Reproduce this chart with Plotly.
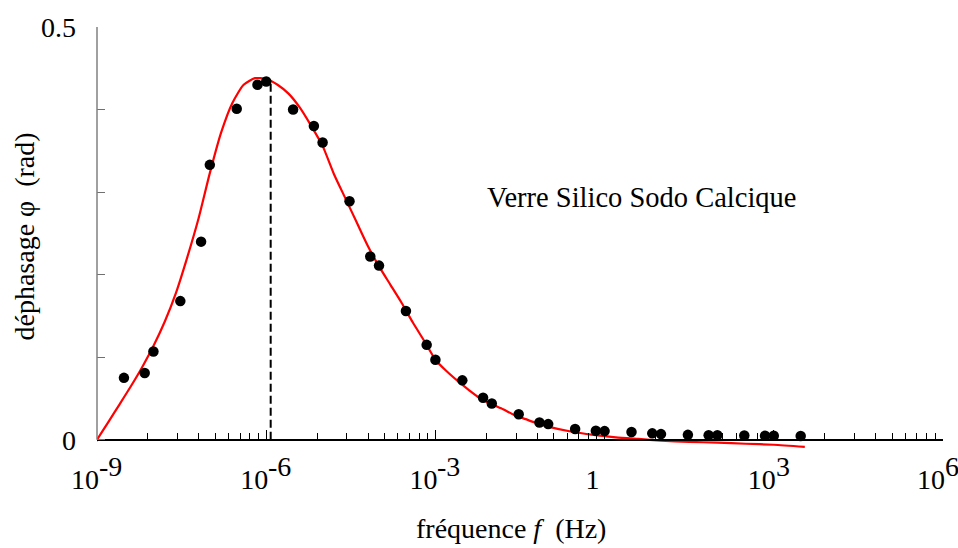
import numpy as np
import plotly.graph_objects as go

# Measured phase shift of soda-lime-silica glass vs. frequency
freq_hz = [3e-9, 7e-9, 1e-8, 3e-8, 7e-8, 1e-7, 3e-7, 7e-7, 1e-6,
           3e-6, 7e-6, 1e-5, 3e-5, 7e-5, 1e-4, 3e-4, 7e-4, 1e-3,
           3e-3, 7e-3, 1e-2, 3e-2, 7e-2, 1e-1, 3e-1, 7e-1, 1.0,
           3.0, 7.0, 10.0, 30.0, 70.0, 100.0, 300.0, 700.0, 1000.0, 3000.0]
phase_rad = [0.075, 0.081, 0.107, 0.168, 0.240, 0.333, 0.401, 0.430, 0.434,
             0.400, 0.380, 0.360, 0.289, 0.222, 0.211, 0.156, 0.115, 0.097,
             0.072, 0.051, 0.044, 0.031, 0.021, 0.019, 0.013, 0.011, 0.0105,
             0.0095, 0.0078, 0.0069, 0.0060, 0.0056, 0.0054, 0.0051, 0.0048, 0.0048, 0.0045]

# Fitted model curve (log10 of frequency, phase)
fit_log_f = [-9.07, -9.0, -8.8, -8.6, -8.4, -8.2, -8.0, -7.8, -7.6, -7.4,
             -7.2, -7.0, -6.8, -6.6, -6.4, -6.2, -6.0, -5.8, -5.6, -5.4,
             -5.2, -5.0, -4.8, -4.6, -4.4, -4.2, -4.0, -3.8, -3.6, -3.4,
             -3.2, -3.0, -2.8, -2.6, -2.4, -2.2, -2.0, -1.8, -1.6, -1.4,
             -1.2, -1.0, -0.6, -0.2, 0.2, 0.6, 1.0, 1.5, 2.0, 2.5, 3.0, 3.55]
fit_phase = [-0.008, 0.0, 0.0215, 0.043, 0.0648, 0.0879, 0.1135, 0.143, 0.178, 0.221,
             0.268, 0.323, 0.372, 0.408, 0.430, 0.438, 0.437, 0.430, 0.419, 0.402,
             0.380, 0.356, 0.322, 0.293, 0.264, 0.235, 0.210, 0.188, 0.166, 0.142,
             0.120, 0.097, 0.083, 0.071, 0.060, 0.050, 0.043, 0.037, 0.030, 0.025,
             0.020, 0.016, 0.010, 0.006, 0.003, 0.001, -0.001, -0.0025, -0.0035, -0.0048, -0.006, -0.0085]

# Relaxation peak marker
peak_freq = 1.2e-6
peak_phase = 0.435

# Axis ticks: mantissa labels on the axis, exponents set as raised text
x_major = [1e-9, 1e-6, 1e-3, 1.0, 1e3, 1e6]
x_major_text = ["10", "10", "10", "1", "10", "10"]
x_exponents = ["-9", "-6", "-3", "", "3", "6"]
y_ticks = [0, 0.1, 0.2, 0.3, 0.4, 0.5]
y_tick_text = ["0", "", "", "", "", "0.5"]

# minor ticks: k^3 steps inside each factor-of-1000 interval
x_minor = [10.0 ** (3 * n) * k ** 3 for n in range(-3, 2) for k in range(2, 10)]

FONT = "Liberation Serif"
FS = 28
Y_MIN = -0.016
X_AXIS_POS = (0 - Y_MIN) / (0.5 - Y_MIN)

fig = go.Figure()

fig.add_trace(go.Scatter(
    x=np.power(10.0, fit_log_f), y=fit_phase, mode="lines",
    line=dict(color="#ff0000", width=2.2, shape="spline", smoothing=0.6),
    hoverinfo="skip", showlegend=False))

fig.add_trace(go.Scatter(
    x=[peak_freq, peak_freq], y=[0, peak_phase], mode="lines",
    line=dict(color="black", width=2, dash="8px,4px"),
    hoverinfo="skip", showlegend=False))

fig.add_trace(go.Scatter(
    x=freq_hz, y=phase_rad, mode="markers",
    marker=dict(color="black", size=10.5),
    showlegend=False))

annotations = [
    dict(text="Verre Silico Sodo Calcique", xref="paper", yref="y",
         x=(485 - 97) / 846, y=0.293, xanchor="left", yanchor="middle",
         showarrow=False, font=dict(family=FONT, size=28.5, color="black")),
    dict(text="fréquence <i>f</i>  (Hz)", xref="paper", yref="paper",
         x=(511 - 97) / 846, y=(453 - 530) / 432, xanchor="center", yanchor="middle",
         showarrow=False, font=dict(family=FONT, size=FS, color="black")),
    dict(text="déphasage φ  (rad)", xref="paper", yref="paper",
         x=(24.5 - 97) / 846, y=(453 - 234) / 432, xanchor="center", yanchor="middle",
         textangle=-90, showarrow=False,
         font=dict(family=FONT, size=FS, color="black")),
]
for xv, exp in zip(x_major, x_exponents):
    if exp:
        annotations.append(dict(
            text=exp, xref="x", yref="paper", x=np.log10(xv), y=X_AXIS_POS,
            xanchor="left", yanchor="middle", xshift=0, yshift=-27,
            showarrow=False, font=dict(family=FONT, size=FS, color="black")))

fig.update_layout(
    width=958, height=548,
    margin=dict(l=97, r=15, t=21, b=95),
    paper_bgcolor="white", plot_bgcolor="white",
    font=dict(family=FONT, size=FS, color="black"),
    xaxis=dict(
        type="log", range=[-9.0005, 6.0005],
        anchor="free", position=X_AXIS_POS,
        showline=True, linecolor="black", linewidth=1.5,
        showgrid=False, zeroline=False,
        tickmode="array", tickvals=x_major, ticktext=x_major_text,
        ticks="inside", ticklen=9, tickwidth=1.3, tickcolor="black",
        ticklabelstandoff=15, ticklabelshift=-12, ticklabeloverflow="allow",
        tickfont=dict(family=FONT, size=FS, color="black"),
        minor=dict(tickmode="array", tickvals=x_minor, ticks="inside",
                   ticklen=6, tickwidth=1.2, tickcolor="black", showgrid=False),
    ),
    yaxis=dict(
        range=[Y_MIN, 0.5],
        showline=False, showgrid=False, zeroline=False,
        tickmode="array", tickvals=y_ticks, ticktext=y_tick_text,
        ticks="inside", ticklen=8, tickwidth=1.3, tickcolor="#707070",
        ticklabelstandoff=20,
        tickfont=dict(family=FONT, size=FS, color="black"),
    ),
    shapes=[dict(type="line", xref="paper", yref="y", x0=0, x1=0, y0=0, y1=0.5,
                 line=dict(color="#808080", width=1.5))],
    annotations=annotations,
)

fig.write_html("out.html")
